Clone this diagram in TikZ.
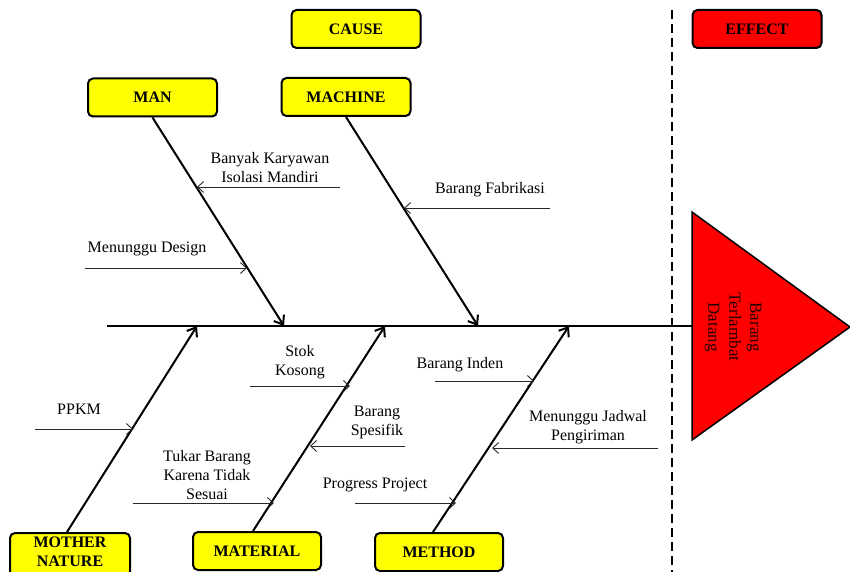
\documentclass[tikz,border=0pt]{standalone}
\usepackage{fontspec}
\setmainfont{Liberation Serif}
\usetikzlibrary{arrows.meta}
\definecolor{boxyellow}{RGB}{255,255,0}
\definecolor{boxred}{RGB}{255,0,0}
\definecolor{subgray}{RGB}{40,40,40}
\tikzset{
  catbox/.style={draw=black, line width=2pt, rounded corners=5pt, fill=boxyellow,
    minimum width=129pt, minimum height=38pt, inner sep=0pt, align=center,
    font=\fontsize{16}{17}\selectfont\bfseries},
  effbox/.style={catbox, fill=boxred},
  bone/.style={line width=2pt, -{Straight Barb[length=8pt,width=12pt,line width=2pt]}},
  subarrow/.style={line width=0.9pt, draw=subgray, -{Straight Barb[length=6pt,width=11pt,line width=0.9pt]}},
  lbl/.style={inner sep=0pt, align=center, font=\fontsize{16}{19}\selectfont},
}
\begin{document}
\begin{tikzpicture}[x=1pt,y=-1pt]
\useasboundingbox (0,0) rectangle (850,572);
% header boxes
\node[catbox] (cause) at (356,29) {CAUSE};
\node[effbox] (effect) at (757,29) {EFFECT};
% dashed separator
\coordinate (dtop) at (672,10);
\coordinate (dbot) at (672,572);
\draw[line width=2pt, dash pattern=on 9pt off 5pt] (dtop) -- (dbot);
% category boxes
\node[catbox] (man) at (152.5,97.5) {MAN};
\node[catbox] (machine) at (346,97) {MACHINE};
\node[catbox, minimum width=120pt, minimum height=50pt] (mother) at (70,558) {};
\node[inner sep=0pt, align=center, font=\fontsize{16}{19}\selectfont\bfseries] (mothertext) at (70,552) {MOTHER\\NATURE};
\node[catbox, minimum width=128pt] (material) at (257,551) {MATERIAL};
\node[catbox, minimum width=128pt] (method) at (439,552) {METHOD};
% effect triangle
\coordinate (ttop) at (692,212);
\coordinate (tbot) at (692,440);
\coordinate (ttip) at (850,327);
\draw[line width=1.5pt, fill=boxred] (ttop) -- (ttip) -- (tbot) -- cycle;
\node[lbl, rotate=-90, text=black!85!red, font=\fontsize{17}{21}\selectfont] (eff) at (733,327) {Barang\\Terlambat\\Datang};
% spine
\coordinate (sp0) at (107,326);
\draw[line width=2pt] (sp0) -- (ttop |- sp0);
% junctions on spine
\coordinate (jman) at (284,326);
\coordinate (jmac) at (478,326);
\coordinate (jmot) at (197,326);
\coordinate (jmat) at (385,326);
\coordinate (jmet) at (569,326);
% bones
\draw[bone] (man.south) -- (jman);
\draw[bone] (machine.south) -- (jmac);
\draw[bone] ([xshift=-3pt]mother.north) -- (jmot);
\draw[bone] ([xshift=-4pt]material.north) -- (jmat);
\draw[bone] ([xshift=-6pt]method.north) -- (jmet);
% sub causes: MAN
\node[lbl] (t1) at (270,168) {Banyak Karyawan\\Isolasi Mandiri};
\coordinate (a1s) at (340,187); \coordinate (a1e) at (197,187);
\draw[subarrow] (a1s) -- (a1e);
\node[lbl] (t2) at (147,249) {Menunggu Design};
\coordinate (a2s) at (85,268); \coordinate (a2e) at (247,268);
\draw[subarrow] (a2s) -- (a2e);
% MACHINE
\node[lbl] (t3) at (490,190) {Barang Fabrikasi};
\coordinate (a3s) at (550,208); \coordinate (a3e) at (404,208);
\draw[subarrow] (a3s) -- (a3e);
% MOTHER NATURE
\node[lbl] (t4) at (79,409) {PPKM};
\coordinate (a4s) at (35,429); \coordinate (a4e) at (133,429);
\draw[subarrow] (a4s) -- (a4e);
% MATERIAL
\node[lbl] (t5) at (300,362) {Stok\\Kosong};
\coordinate (a5s) at (250,386); \coordinate (a5e) at (350,386);
\draw[subarrow] (a5s) -- (a5e);
\node[lbl] (t6) at (377,422) {Barang\\Spesifik};
\coordinate (a6s) at (405,446); \coordinate (a6e) at (310,446);
\draw[subarrow] (a6s) -- (a6e);
\node[lbl] (t7) at (207,475) {Tukar Barang\\Karena Tidak\\Sesuai};
\coordinate (a7s) at (133,503); \coordinate (a7e) at (274,503);
\draw[subarrow] (a7s) -- (a7e);
% METHOD
\node[lbl] (t8) at (375,485) {Progress Project};
\coordinate (a8s) at (355,503); \coordinate (a8e) at (456,503);
\draw[subarrow] (a8s) -- (a8e);
\node[lbl] (t9) at (460,365) {Barang Inden};
\coordinate (a9s) at (435,381); \coordinate (a9e) at (534,381);
\draw[subarrow] (a9s) -- (a9e);
\node[lbl] (t10) at (588,427) {Menunggu Jadwal\\Pengiriman};
\coordinate (a10s) at (658,448); \coordinate (a10e) at (492,448);
\draw[subarrow] (a10s) -- (a10e);
\end{tikzpicture}
\end{document}
